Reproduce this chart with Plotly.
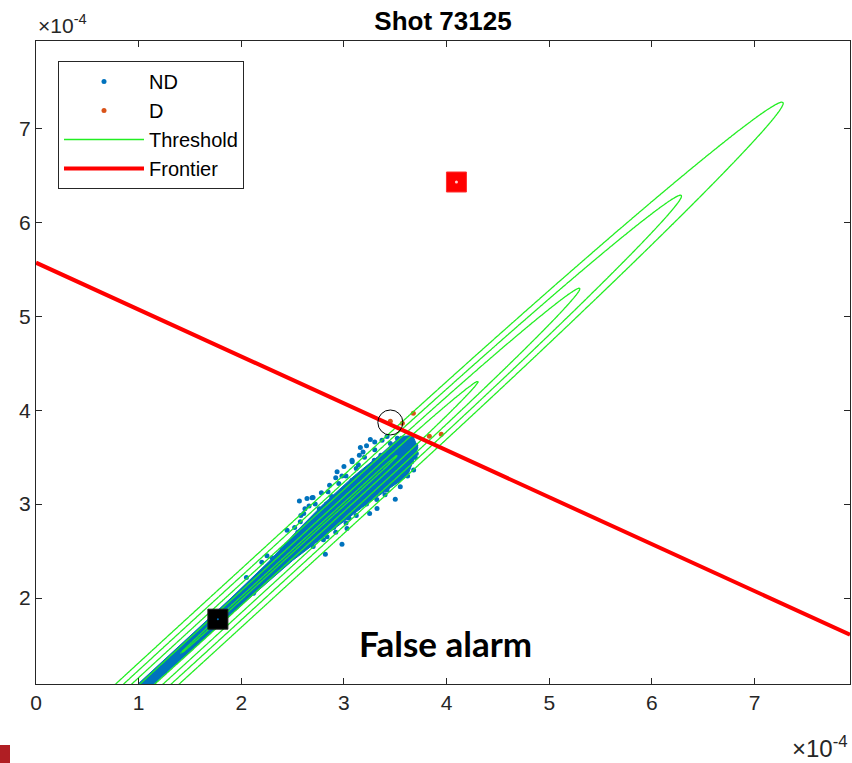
import numpy as np
import plotly.graph_objects as go

SCALE = 1e-4  # every value below is in units of 1e-4

# ---------------- axes ----------------
X_RANGE = [0.0, 7.93]
Y_RANGE = [1.085, 7.93]
X_TICKS = [0, 1, 2, 3, 4, 5, 6, 7]
X_TICK_LABELS = ["0", "1", "2", "3", "4", "5", "6", "7"]
Y_TICKS = [2, 3, 4, 5, 6, 7]
Y_TICK_LABELS = ["2", "3", "4", "5", "6", "7"]

# ---------------- ND: dense core outline ----------------
ND_CORE_X = [0.91, 0.995, 1.405, 1.90, 2.28, 2.53, 2.80, 3.10, 3.38, 3.55, 3.67,
             3.72, 3.62, 3.22, 2.86, 2.50, 2.08, 1.57, 1.145, 1.06]
ND_CORE_Y = [1.00, 1.085, 1.50, 2.00, 2.40, 2.70, 3.00, 3.30, 3.55, 3.72, 3.73,
             3.60, 3.30, 3.00, 2.70, 2.40, 2.00, 1.50, 1.085, 1.00]

# ---------------- ND: scattered points ----------------
ND_X = [3.257, 3.160, 3.186, 3.079, 2.566, 2.689, 2.845, 2.981, 2.819, 3.322,
        3.500, 3.705, 3.679, 3.296, 3.371, 2.575, 2.705, 2.446, 2.997, 2.900,
        3.079, 3.549, 3.452, 2.835, 3.030, 2.608, 2.699, 2.933, 2.640, 3.695,
        2.76, 2.88, 2.95, 3.02, 3.12, 3.20, 3.30, 3.42, 2.70, 2.80,
        3.10, 3.20, 3.35, 3.45, 3.58, 3.62, 3.25, 3.05, 2.62, 2.50,
        2.40, 2.30, 2.52, 2.90, 3.40, 3.60, 3.52, 3.36, 2.20, 2.12,
        2.62, 2.72, 2.78, 2.86, 2.92, 3.00, 3.08, 3.15, 3.22, 3.30,
        2.70, 2.80, 2.92, 3.02, 3.12, 3.22, 3.32, 3.42, 3.52, 3.60,
        3.66, 3.70, 2.05, 2.25, 2.35, 2.58, 2.66, 2.98, 3.14, 3.48,
        2.55, 2.83, 3.05, 3.27, 3.56]
ND_Y = [3.688, 3.603, 3.556, 3.468, 3.032, 3.067, 3.131, 2.574, 2.465, 2.954,
        3.053, 3.539, 3.362, 3.468, 3.681, 2.812, 2.812, 2.723, 3.149, 2.971,
        3.255, 3.184, 3.646, 2.652, 2.741, 2.901, 3.071, 3.344, 3.060, 3.497,
        2.95, 3.08, 3.22, 3.30, 3.38, 3.50, 3.58, 3.72, 2.70, 2.85,
        2.95, 3.08, 3.20, 3.35, 3.45, 3.30, 2.90, 2.85, 2.68, 2.60,
        2.52, 2.43, 2.75, 2.75, 3.10, 3.62, 3.70, 3.52, 2.38, 2.05,
        2.95, 3.00, 3.12, 3.20, 3.28, 3.40, 3.45, 3.52, 3.62, 3.66,
        2.55, 2.62, 2.70, 2.80, 2.88, 3.00, 3.05, 3.15, 3.25, 3.38,
        3.45, 3.62, 2.22, 2.45, 2.35, 2.88, 2.98, 3.30, 3.42, 3.58,
        2.70, 3.00, 3.18, 3.38, 3.55]

# ---------------- D points ----------------
D_X = [3.452, 3.569, 3.676, 3.832, 3.948]
D_Y = [3.883, 3.862, 3.968, 3.723, 3.745]

# ---------------- Frontier ----------------
FRONTIER_X = [0.0, 7.93]
FRONTIER_Y = [5.57, 1.61]

# ---------------- Threshold model (diagonal band with elliptical caps) ----------------
TH_TOP_START = 3.32     # diagonal position where the upper caps begin
TH_TOP_RATE = 0.0556
TH_LOW_START = 1.80     # diagonal position where the lower caps begin
TH_LOW_RATE = 0.0286
TH_LEVEL_STEP = 0.055
TH_LEVEL_END = 0.2201
TH_INNER_LEVEL = 0.012

# ---------------- special markers ----------------
CIRCLE_X, CIRCLE_Y = [3.452], [3.869]
ALARM_X, ALARM_Y = [4.096], [6.429]
START_X, START_Y = [1.772], [1.775]


def sc(v):
    return [a * SCALE for a in v]


gx = np.arange(-0.2, 8.2, 0.014)
gy = np.arange(0.8, 8.2, 0.014)
GX, GY = np.meshgrid(gx, gy)
T = np.abs(GY - GX) / np.sqrt(2)
DG = (GX + GY) / 2
Z = np.sqrt(T ** 2
            + (TH_TOP_RATE * np.clip(DG - TH_TOP_START, 0, None)) ** 2
            + (TH_LOW_RATE * np.clip(TH_LOW_START - DG, 0, None)) ** 2)
Z = np.round(Z, 5)

FONT = "Liberation Sans, Arial, Helvetica, sans-serif"
AX_COL = "#262626"
ND_COL = "#0072BD"
D_COL = "#D95319"
GREEN = "#22EE22"

fig = go.Figure()

fig.add_trace(go.Scatter(x=sc(ND_CORE_X), y=sc(ND_CORE_Y), mode="lines", fill="toself",
                         fillcolor=ND_COL, line=dict(color=ND_COL, width=1),
                         showlegend=False, hoverinfo="skip"))
fig.add_trace(go.Scatter(x=sc(ND_X), y=sc(ND_Y), mode="markers", name="ND",
                         marker=dict(color=ND_COL, size=5)))
fig.add_trace(go.Scatter(x=sc(D_X), y=sc(D_Y), mode="markers", name="D",
                         marker=dict(color=D_COL, size=5)))

# outer threshold levels
fig.add_trace(go.Contour(x=gx * SCALE, y=gy * SCALE, z=Z, autocontour=False,
                         contours=dict(start=TH_LEVEL_STEP, end=TH_LEVEL_END,
                                       size=TH_LEVEL_STEP, coloring="none"),
                         line=dict(color=GREEN, width=1.3), showscale=False,
                         showlegend=False, hoverinfo="skip", xaxis="x2", yaxis="y2"))
# innermost threshold level
fig.add_trace(go.Contour(x=gx * SCALE, y=gy * SCALE, z=Z, autocontour=False,
                         contours=dict(start=TH_INNER_LEVEL, end=TH_INNER_LEVEL,
                                       size=TH_LEVEL_STEP, coloring="none"),
                         line=dict(color=GREEN, width=1.2), showscale=False,
                         showlegend=False, hoverinfo="skip", xaxis="x2", yaxis="y2"))
fig.add_trace(go.Scatter(x=[None], y=[None], mode="lines", name="Threshold",
                         line=dict(color=GREEN, width=1.5), xaxis="x2", yaxis="y2"))
fig.add_trace(go.Scatter(x=sc(FRONTIER_X), y=sc(FRONTIER_Y), mode="lines", name="Frontier",
                         line=dict(color="#FF0000", width=4), xaxis="x2", yaxis="y2"))
fig.add_trace(go.Scatter(x=sc(CIRCLE_X), y=sc(CIRCLE_Y), mode="markers", showlegend=False,
                         marker=dict(symbol="circle-open", size=25, color="black",
                                     line=dict(width=1, color="black")),
                         xaxis="x2", yaxis="y2", hoverinfo="skip"))
fig.add_trace(go.Scatter(x=sc(ALARM_X), y=sc(ALARM_Y), mode="markers", showlegend=False,
                         marker=dict(symbol="square", size=20, color="#FF0000",
                                     line=dict(width=1, color="#FF3030")),
                         xaxis="x2", yaxis="y2", hoverinfo="skip"))
fig.add_trace(go.Scatter(x=sc(ALARM_X), y=sc(ALARM_Y), mode="markers", showlegend=False,
                         marker=dict(size=3, color="#FFD0D0"),
                         xaxis="x2", yaxis="y2", hoverinfo="skip"))
fig.add_trace(go.Scatter(x=sc(START_X), y=sc(START_Y), mode="markers", showlegend=False,
                         marker=dict(symbol="square", size=20, color="black",
                                     line=dict(width=1, color="#202020")),
                         xaxis="x2", yaxis="y2", hoverinfo="skip"))
fig.add_trace(go.Scatter(x=sc(START_X), y=sc(START_Y), mode="markers", showlegend=False,
                         marker=dict(size=2, color=ND_COL),
                         xaxis="x2", yaxis="y2", hoverinfo="skip"))

axis_common = dict(showgrid=False, zeroline=False, showline=True, linecolor=AX_COL,
                   linewidth=1, mirror="ticks", ticks="inside", ticklen=6,
                   tickcolor=AX_COL, tickfont=dict(family=FONT, size=21, color=AX_COL))

L, R, TOP, B = 36, 2, 41, 79
PW = 852 - L - R
PH = 763 - TOP - B

fig.update_layout(
    width=852, height=763,
    margin=dict(l=L, r=R, t=TOP, b=B, autoexpand=False),
    plot_bgcolor="white", paper_bgcolor="white",
    xaxis=dict(range=sc(X_RANGE), tickvals=sc(X_TICKS), ticktext=X_TICK_LABELS, **axis_common),
    yaxis=dict(range=sc(Y_RANGE), tickvals=sc(Y_TICKS), ticktext=Y_TICK_LABELS, **axis_common),
    xaxis2=dict(overlaying="x", range=sc(X_RANGE), visible=False),
    yaxis2=dict(overlaying="y", range=sc(Y_RANGE), visible=False),
    title=dict(text="<b>Shot 73125</b>", x=0.5, xref="paper", xanchor="center",
               y=1 - 21 / 763, yref="container", yanchor="middle",
               font=dict(family=FONT, size=26, color="black")),
    legend=dict(x=(58 - L) / PW, y=1 - (61 - TOP) / PH, xanchor="left", yanchor="top",
                bordercolor=AX_COL, borderwidth=1, bgcolor="white",
                font=dict(family=FONT, size=20, color="black"),
                itemwidth=80, traceorder="normal"),
    showlegend=True,
    annotations=[
        dict(text="<b>False alarm</b>", x=3.99 * SCALE, y=1.52 * SCALE, xref="x", yref="y",
             showarrow=False, font=dict(family="Lato, Open Sans, sans-serif", size=35, color="black")),
        dict(text="×10<sup>-4</sup>", x=0, y=1, xref="paper", yref="paper",
             xanchor="left", yanchor="bottom", showarrow=False, yshift=2,
             font=dict(family=FONT, size=21, color=AX_COL)),
        dict(text="×10<sup>-4</sup>", x=1, y=0, xref="paper", yref="paper",
             xanchor="right", yanchor="top", showarrow=False, yshift=-46,
             font=dict(family=FONT, size=24, color=AX_COL)),
    ],
    shapes=[dict(type="rect", xref="paper", yref="paper",
                 x0=(0 - L) / PW, x1=(10 - L) / PW,
                 y0=-(745 - (763 - B)) / PH, y1=-(763 - (763 - B)) / PH,
                 fillcolor="#B01E23", line=dict(width=0), layer="above")],
)

fig.write_html("out.html")
